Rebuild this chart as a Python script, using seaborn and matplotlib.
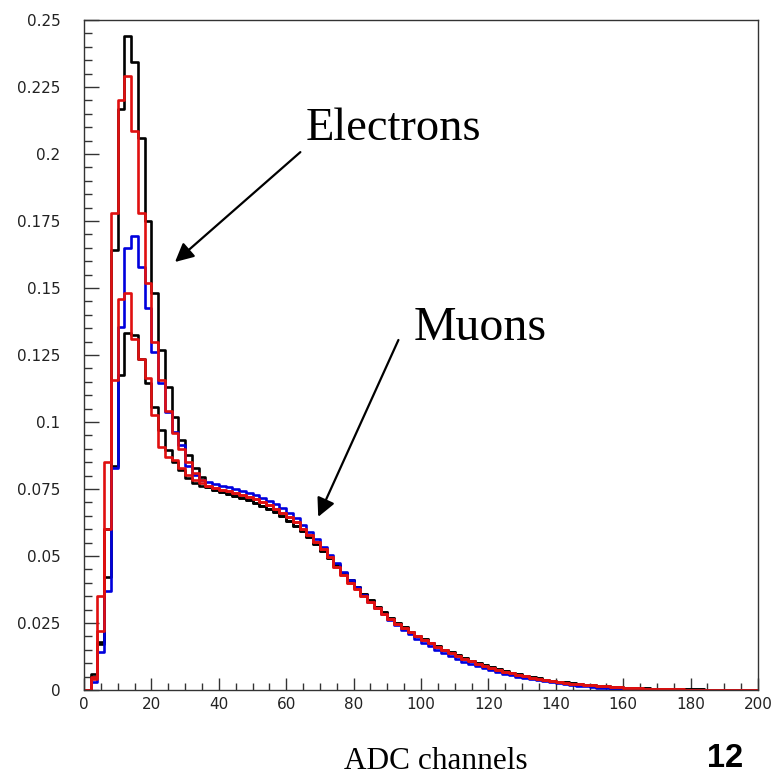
import numpy as np
import pandas as pd
import matplotlib
matplotlib.use("Agg")
import matplotlib.pyplot as plt
import seaborn as sns

# bin edges: 100 bins of 2 ADC channels
bin_edges = list(range(0, 202, 2))
bin_centers = [e + 1 for e in bin_edges[:-1]]

# first 18 bins (0-36) per series
head_black_e = [0, 0.006, 0.018, 0.060, 0.164, 0.2167, 0.244, 0.2345, 0.206,
                0.175, 0.148, 0.127, 0.113, 0.102, 0.0933, 0.0877, 0.0827, 0.0796]
head_black_mu = [0, 0.005, 0.017, 0.042, 0.0836, 0.1175, 0.1333, 0.1325, 0.1235,
                 0.1145, 0.1057, 0.097, 0.0895, 0.0852, 0.0821, 0.079, 0.0771, 0.0762]
head_red_e = [0, 0.004, 0.035, 0.085, 0.178, 0.220, 0.229, 0.2086, 0.178,
              0.152, 0.130, 0.1157, 0.104, 0.096, 0.090, 0.085, 0.081, 0.0785]
head_red_mu = [0, 0.005, 0.022, 0.060, 0.1157, 0.146, 0.148, 0.131, 0.1235,
               0.1163, 0.1026, 0.0908, 0.0871, 0.0859, 0.0827, 0.0802, 0.0784, 0.0771]
head_blue = [0, 0.003, 0.014, 0.037, 0.083, 0.1356, 0.165, 0.1695, 0.158,
             0.1425, 0.126, 0.1145, 0.1039, 0.0964, 0.0914, 0.0834, 0.0802, 0.0784]

# remaining 82 bins (36-200), shared by series of the same colour
tail_black = [0.0756, 0.0748, 0.074, 0.0733, 0.0725, 0.0717, 0.0708, 0.0698, 0.0688,
              0.0676, 0.0663, 0.0648, 0.0632, 0.0613, 0.0592, 0.057, 0.0546, 0.052,
              0.0494, 0.0465, 0.0437, 0.041, 0.0383, 0.0358, 0.0334, 0.0311, 0.029,
              0.027, 0.0251, 0.0234, 0.0218, 0.0203, 0.0189, 0.0176, 0.0163, 0.0151,
              0.014, 0.0129, 0.0119, 0.011, 0.0101, 0.0093, 0.0085, 0.0078, 0.0071,
              0.0065, 0.0059, 0.0053, 0.0048, 0.0043, 0.0039, 0.0035, 0.0031, 0.0028,
              0.0025, 0.0022, 0.0019, 0.0017, 0.0015, 0.0013, 0.0011, 0.001, 0.0009,
              0.0008, 0.0007, 0.0006, 0.0005, 0.0005, 0.0004, 0.0004, 0.0003, 0.0003,
              0.0002, 0.0002, 0.0001, 0, 0, 0, 0, 0, 0, 0]
tail_red = [0.0762, 0.0755, 0.0748, 0.0742, 0.0735, 0.0728, 0.072, 0.0712, 0.0702,
            0.069, 0.0677, 0.0662, 0.0645, 0.0625, 0.0602, 0.0578, 0.0552, 0.0525,
            0.0498, 0.046, 0.043, 0.040, 0.0375, 0.035, 0.0327, 0.0305, 0.0285,
            0.0266, 0.0248, 0.0232, 0.0216, 0.0201, 0.0188, 0.0175, 0.0162, 0.015,
            0.0138, 0.0127, 0.0117, 0.0107, 0.0098, 0.009, 0.0082, 0.0075, 0.0068,
            0.0062, 0.0056, 0.0051, 0.0046, 0.0041, 0.0037, 0.0033, 0.003, 0.0027,
            0.0024, 0.0021, 0.0019, 0.0017, 0.0015, 0.0013, 0.0011, 0.001, 0.0008,
            0.0007, 0.0006, 0.0005, 0.0004, 0.0003, 0.0003, 0.0002, 0.0002, 0.0001,
            0.0001, 0.0001, 0.0001, 0, 0, 0, 0, 0, 0, 0]
tail_blue = [0.0775, 0.0768, 0.0762, 0.0756, 0.075, 0.0743, 0.0736, 0.0728, 0.0718,
             0.0707, 0.0694, 0.0679, 0.0661, 0.064, 0.0616, 0.059, 0.0562, 0.0533,
             0.0503, 0.0472, 0.0442, 0.0412, 0.0383, 0.0355, 0.0329, 0.0305, 0.0283,
             0.0262, 0.0243, 0.0225, 0.0208, 0.0192, 0.0177, 0.0163, 0.015, 0.0138,
             0.0127, 0.0116, 0.0106, 0.0097, 0.0089, 0.0081, 0.0074, 0.0067, 0.0061,
             0.0055, 0.005, 0.0045, 0.004, 0.0036, 0.0032, 0.0028, 0.0025, 0.0022,
             0.0019, 0.0016, 0.0014, 0.0011, 0.0009, 0.0007, 0.0005, 0.0003, 0.0002,
             0.0001, 0, 0, 0, 0, 0, 0, 0, 0, 0, 0, 0, 0, 0, 0, 0, 0, 0, 0]

series_names = ["black_mu", "black_e", "blue", "red_mu", "red_e"]
series_colors = ["#000000", "#000000", "#0000dd", "#e01010", "#e01010"]

series_values = {
    "black_mu": head_black_mu + tail_black,
    "black_e": head_black_e + tail_black,
    "blue": head_blue + tail_blue,
    "red_mu": head_red_mu + tail_red,
    "red_e": head_red_e + tail_red,
}

y_ticks = [0, 0.025, 0.05, 0.075, 0.1, 0.125, 0.15, 0.175, 0.2, 0.225, 0.25]
y_tick_labels = ["0", "0.025", "0.05", "0.075", "0.1", "0.125", "0.15",
                 "0.175", "0.2", "0.225", "0.25"]
x_ticks = [0, 20, 40, 60, 80, 100, 120, 140, 160, 180, 200]

sns.set_style("white")

fig = plt.figure(figsize=(7.8, 7.75), dpi=100)
ax = fig.add_axes([0.1077, 0.1097, 0.8641, 0.8645])

for name, col in zip(series_names, series_colors):
    df = pd.DataFrame({"adc": bin_centers, "w": series_values[name]})
    sns.histplot(data=df, x="adc", weights="w", bins=bin_edges,
                 element="step", fill=False, color=col, linewidth=1.9, ax=ax)

ax.set_xlim(0, 200)
ax.set_ylim(0, 0.25)
ax.set_xlabel("")
ax.set_ylabel("")

ax.set_xticks(x_ticks)
ax.set_xticks(np.arange(0, 201, 5), minor=True)
ax.set_yticks(y_ticks)
ax.set_yticklabels(y_tick_labels)
ax.set_yticks(np.arange(0, 0.2501, 0.005), minor=True)

ax.tick_params(axis="both", which="both", direction="in", colors="#333333",
               left=True, bottom=True, top=False, right=False, labelsize=11)
ax.tick_params(axis="y", which="major", length=11, width=1, pad=17)
ax.tick_params(axis="y", which="minor", length=6, width=1)
ax.tick_params(axis="x", which="major", length=9, width=1, pad=5)
ax.tick_params(axis="x", which="minor", length=5, width=1)
for lab in ax.get_xticklabels() + ax.get_yticklabels():
    lab.set_color("#222222")

for sp in ax.spines.values():
    sp.set_color("#333333")
    sp.set_linewidth(1.0)

serif = ["Liberation Serif", "DejaVu Serif"]

ax.annotate("", xy=(27.0, 0.1597), xytext=(64.2, 0.2007),
            arrowprops=dict(arrowstyle="-|>", color="black", lw=1.6,
                            mutation_scale=28, shrinkA=0, shrinkB=0))
ax.text(65.7, 0.2052, "Electrons", family=serif, fontsize=33.5, ha="left",
        va="baseline", color="black")

ax.annotate("", xy=(69.5, 0.0646), xytext=(93.3, 0.1306),
            arrowprops=dict(arrowstyle="-|>", color="black", lw=1.6,
                            mutation_scale=28, shrinkA=0, shrinkB=0))
ax.text(97.8, 0.1306, "Muons", family=serif, fontsize=34.5, ha="left",
        va="baseline", color="black")

fig.text(0.559, 0.017, "ADC channels", family=serif, fontsize=22.5,
         ha="center", va="center", color="black")
fig.text(0.929, 0.021, "12", family=["Liberation Sans", "DejaVu Sans"],
         fontsize=23.5, fontweight="bold", ha="center", va="center", color="black")

fig.savefig("out.png", dpi=100)
